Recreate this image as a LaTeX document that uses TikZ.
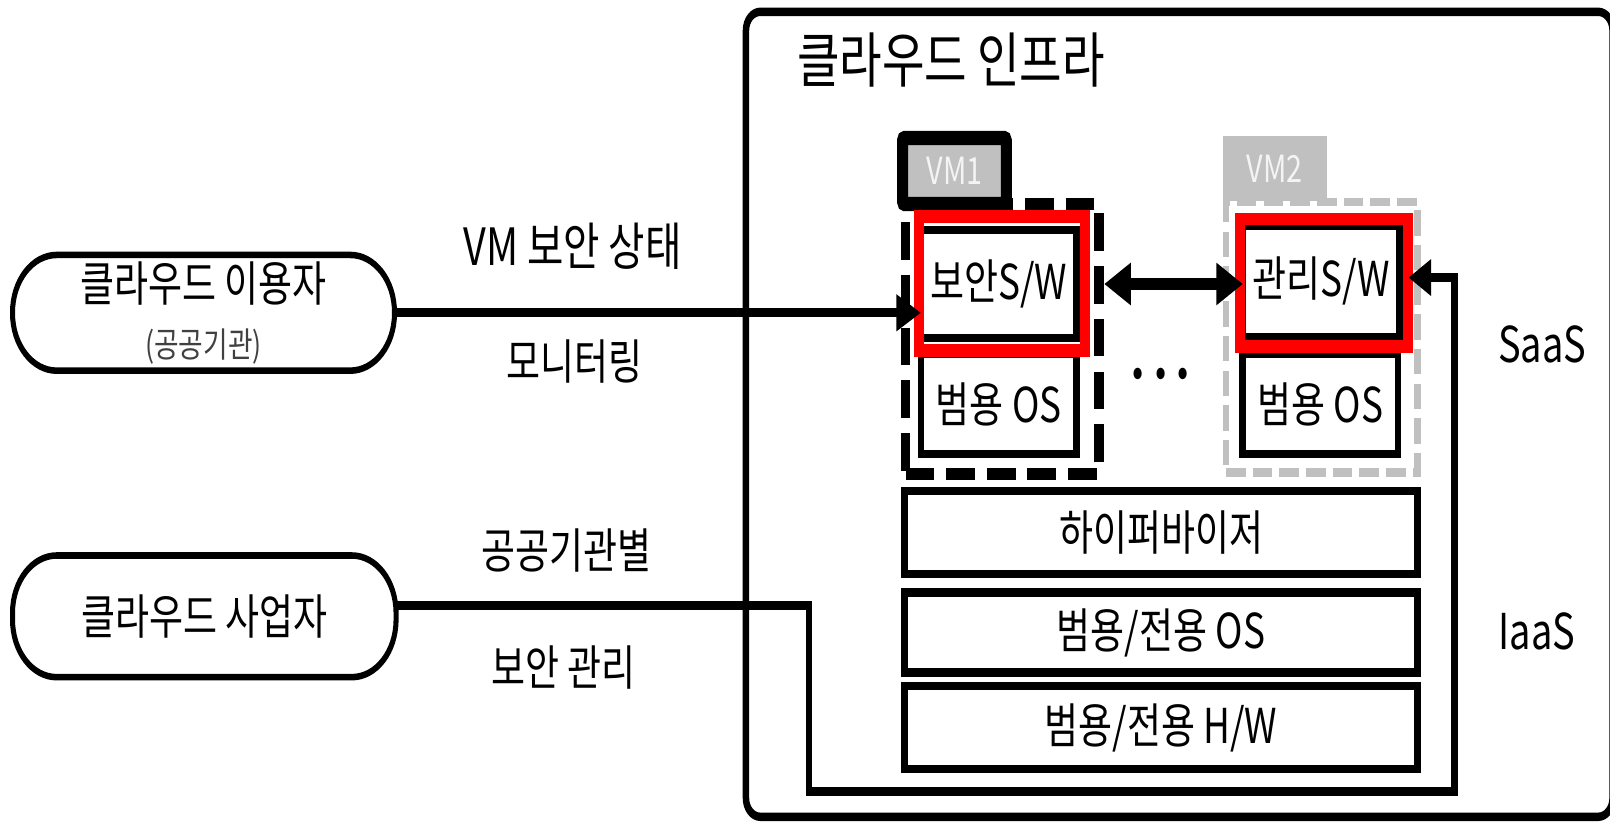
\documentclass[tikz,border=0pt]{standalone}
\usepackage{fontspec}
\setmainfont{Noto Sans CJK KR}
\usetikzlibrary{arrows.meta}
\newcommand\myfs[1]{\fontsize{#1}{#1}\selectfont}
\definecolor{vmgray}{HTML}{C0C0C0}
\definecolor{vmtext}{HTML}{F4F4F4}
\definecolor{hired}{HTML}{FF0000}
\definecolor{subgray}{HTML}{404040}
\tikzset{
  corners/.style n args={4}{at={({(#1+#3)/2},{(#2+#4)/2})},
    minimum width={(#3-#1)*1pt}, minimum height={(#4-#2)*0.769231pt}},
  frame/.style={draw, inner sep=0pt, outer sep=0pt},
  container/.style={frame, line width=6.3pt, rounded corners=14pt},
  party/.style={frame, line width=4.9pt, rounded corners=43pt, align=center, font=\fontsize{36}{42}\selectfont},
  layerbox/.style={frame, line width=6.3pt, font=\myfs{36}},
  highlight/.style={frame, draw=hired, line width=9.7pt},
  vmone/.style={frame, line width=9.4pt, dash pattern=on 28pt off 11.5pt},
  vmtwo/.style={frame, draw=vmgray, line width=6.5pt, dash pattern=on 19pt off 7pt},
  tabone/.style={frame, fill=vmgray, line width=10.7pt, rounded corners=2pt, text=vmtext, font=\myfs{28}},
  tabtwo/.style={inner sep=0pt, outer sep=0pt, fill=vmgray, text=vmtext, font=\myfs{28}},
  lbl/.style={font=\myfs{36}, inner sep=0pt},
  conn/.style={line width=6.5pt},
}
\begin{document}
\begin{tikzpicture}[x=1pt,y=-1pt]
\fill[white] (0,0) rectangle (1568,800);
\useasboundingbox (0,0) rectangle (1568,800);
\begin{scope}[y=-0.769231pt, transform canvas={yscale=1.3}]
% cloud infrastructure container
\node[container, corners={726.5}{11.5}{1570.5}{795.5}] (infra) {};
\node[lbl, anchor=west, font=\myfs{45}] (title) at (776,58.5) {클라우드 인프라};

% VM1
\node[vmone, corners={882}{198.7}{1070.3}{461.6}] (vm1) {};
\node[tabone, corners={879}{134.4}{980}{198.7}] (vm1tab) {VM1};
\node[layerbox, corners={897}{224}{1048.6}{329}] (sw1) {보안S/W};
\node[layerbox, corners={897}{345}{1048.4}{442}] (os1) {범용 OS};
\node[highlight, corners={894.6}{211.3}{1056.3}{341}] (red1) {};

% VM2
\node[tabtwo, corners={1190.6}{132.5}{1292.4}{196}] (vm2tab) {VM2};
\node[vmtwo, corners={1194}{196.7}{1380.5}{460.2}] (vm2) {};
\node[layerbox, corners={1210.6}{220}{1363}{328}] (sw2) {관리S/W};
\node[layerbox, corners={1210}{345}{1361.5}{442}] (os2) {범용 OS};
\node[highlight, corners={1208}{213.3}{1371.7}{337}] (red2) {};

\node[lbl, font=\myfs{32}] (dots) at (1130.7,367.6) {•\hspace{11pt}•\hspace{11pt}•};

% layers
\node[layerbox, corners={881}{478}{1380.5}{559}] (hyp) {하이퍼바이저};
\node[layerbox, corners={881}{577}{1380.5}{655}] (hostos) {범용/전용 OS};
\node[layerbox, corners={881}{668}{1380.5}{749}] (hw) {범용/전용 H/W};

\node[lbl, font=\myfs{37}] (saas) at (1502,335) {SaaS};
\node[lbl, font=\myfs{37}] (iaas) at (1497,615) {IaaS};

% parties
\node[party, corners={12.2}{248.3}{384.2}{361}] (user) {클라우드 이용자\\{\myfs{26}\color{subgray}(공공기관)}};
\node[party, corners={12.2}{541}{385.7}{659.5}] (prov) {클라우드 사업자};

% connector labels
\node[lbl, font=\myfs{38.5}] (l1) at (557.6,240) {VM 보안 상태};
\node[lbl] (l2) at (559.5,352) {모니터링};
\node[lbl] (l3) at (551.7,536.6) {공공기관별};
\node[lbl] (l4) at (548.8,650) {보안 관리};

% connectors
\draw[conn, -{Triangle[length=24pt,width=26pt]}] (user.east) -- (sw1.west |- user.east);
\coordinate (dy) at (0,276.6);
\draw[line width=8.8pt, {Triangle[length=26pt,width=30pt]}-{Triangle[length=26pt,width=30pt]}]
  ([xshift=5pt]vm1.east |- dy) -- (sw2.west |- dy);
\coordinate (p1) at (788,589.7);
\coordinate (p2) at (788,770.8);
\coordinate (p3) at (1416.6,770.8);
\coordinate (p4) at (1416.6,270.3);
\draw[conn, -{Triangle[length=22pt,width=26pt]}]
  (prov.east |- p1) -- (p1) -- (p2) -- (p3) -- (p4) -- (red2.east |- p4);
\end{scope}
\end{tikzpicture}
\end{document}
